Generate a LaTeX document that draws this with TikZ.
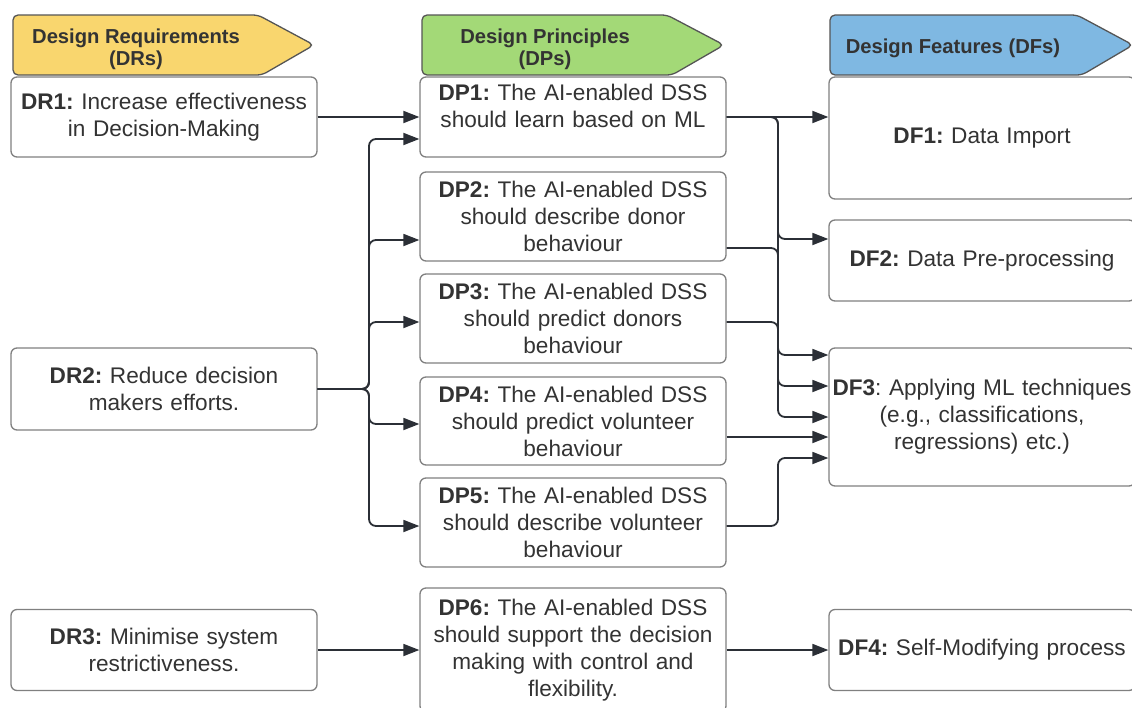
\documentclass[tikz,border=0pt]{standalone}
\usepackage{fontspec}
\setmainfont{Liberation Sans}
\usetikzlibrary{arrows.meta,calc}

\definecolor{txt}{HTML}{333333}
\definecolor{boxline}{HTML}{808080}
\definecolor{hdrline}{HTML}{555555}
\definecolor{conncol}{HTML}{2B2F36}
\definecolor{hdrYellow}{HTML}{F9D66E}
\definecolor{hdrGreen}{HTML}{A3D977}
\definecolor{hdrBlue}{HTML}{7FB8E2}

\newcommand{\bodyfont}{\fontsize{22.6}{27}\selectfont\frenchspacing}
\newcommand{\hdrfont}{\fontsize{20.2}{22}\selectfont\bfseries\frenchspacing}

\tikzset{
  box/.style={draw=boxline, line width=1.3pt, rounded corners=6pt, fill=white,
    minimum width=306pt, text width=304pt, align=center, inner sep=0pt,
    text=txt, font=\bodyfont},
  hdr/.style={draw=hdrline, line width=1.3pt, rounded corners=5pt},
  hdrtext/.style={align=center, text=txt, font=\hdrfont, inner sep=0pt},
  conn/.style={draw=conncol, line width=1.8pt, rounded corners=7pt,
    -{Triangle[length=16pt,width=12pt]}},
}

\begin{document}
\begin{tikzpicture}[x=1pt,y=-1pt]
\useasboundingbox (0,0) rectangle (1132,707);
\clip (0,0) rectangle (1132,707);

% column headers
\draw[hdr, fill=hdrYellow] (13,15) -- (258,15) -- (314,45) -- (262,75) -- (13,75) -- cycle;
\node[hdrtext] (hDR) at (136,49) {Design Requirements\\(DRs)};
\draw[hdr, fill=hdrGreen] (422,15) -- (667,15) -- (724,45) -- (672,75) -- (422,75) -- cycle;
\node[hdrtext] (hDP) at (545,49) {Design Principles\\(DPs)};
\draw[hdr, fill=hdrBlue] (830,15) -- (1077,15) -- (1133,45) -- (1082,75) -- (830,75) -- cycle;
\node[hdrtext] (hDF) at (953,48.5) {Design Features (DFs)};

% design requirements
\node[box, minimum height=80pt] (DR1) at (164,117) {\textbf{DR1:} Increase effectiveness\\in Decision-Making};
\node[box, minimum height=82pt] (DR2) at (164,389) {\textbf{DR2:} Reduce decision\\makers efforts.};
\node[box, minimum height=81pt] (DR3) at (164,650) {\textbf{DR3:} Minimise system\\restrictiveness.};

% design principles
\node[box, minimum height=80pt] (DP1) at (573,117) {\textbf{DP1:} The AI-enabled DSS\\should learn based on ML\\[-12pt]\strut};
\node[box, minimum height=89pt] (DP2) at (573,216.5) {\textbf{DP2:} The AI-enabled DSS\\should describe donor\\behaviour};
\node[box, minimum height=89pt] (DP3) at (573,318.5) {\textbf{DP3:} The AI-enabled DSS\\should predict donors\\behaviour};
\node[box, minimum height=88pt] (DP4) at (573,421) {\textbf{DP4:} The AI-enabled DSS\\should predict volunteer\\behaviour};
\node[box, minimum height=89pt] (DP5) at (573,522.5) {\textbf{DP5:} The AI-enabled DSS\\should describe volunteer\\behaviour};
\node[box, minimum height=124pt] (DP6) at (573,650) {\textbf{DP6:} The AI-enabled DSS\\should support the decision\\making with control and\\flexibility.};

% design features
\node[box, minimum height=122pt] (DF1) at (982,138) {\textbf{DF1:} Data Import};
\node[box, minimum height=81pt] (DF2) at (982,260.5) {\textbf{DF2:} Data Pre-processing};
\node[box, minimum height=138pt] (DF3) at (982,417) {\textbf{DF3}: Applying ML techniques\\(e.g., classifications,\\regressions) etc.)};
\node[box, minimum height=81pt] (DF4) at (982,650) {\textbf{DF4:} Self-Modifying process};

% requirements -> principles
\coordinate (lt) at (369,389);
\draw[conn] (DR1.east) -- (DR1.east -| DP1.west);
\draw[conn] (DR2.east) -- (lt) |- ($(DP1.west)+(0,22)$);
\draw[conn] (DR2.east) -- (lt) |- ($(DP2.west)+(0,23.5)$);
\draw[conn] (DR2.east) -- (lt) |- ($(DP3.west)+(0,3.5)$);
\draw[conn] (DR2.east) -- (lt) |- ($(DP4.west)+(0,3)$);
\draw[conn] (DR2.east) -- (lt) |- ($(DP5.west)+(0,3.5)$);
\draw[conn] (DR3.east) -- (DR3.east -| DP6.west);

% principles -> features
\coordinate (rt) at (778,117);
\draw[conn] (DP1.east) -- (DP1.east -| DF1.west);
\draw[conn] (DP1.east) -- (rt) |- ($(DF2.west)+(0,-21.5)$);
\draw[conn] (DP1.east) -- (rt) |- (DF3.west);
\draw[conn] ($(DP2.east)+(0,31.5)$) -- (778,248) |- ($(DF3.west)+(0,-62)$);
\draw[conn] ($(DP3.east)+(0,3.5)$) -- (778,322) |- ($(DF3.west)+(0,-31)$);
\draw[conn] ($(DP4.east)+(0,16)$) -- ($(DF3.west)+(0,20)$);
\draw[conn] ($(DP5.east)+(0,3.5)$) -- (778,526) |- ($(DF3.west)+(0,41)$);
\draw[conn] (DP6.east) -- (DP6.east -| DF4.west);
\end{tikzpicture}
\end{document}
